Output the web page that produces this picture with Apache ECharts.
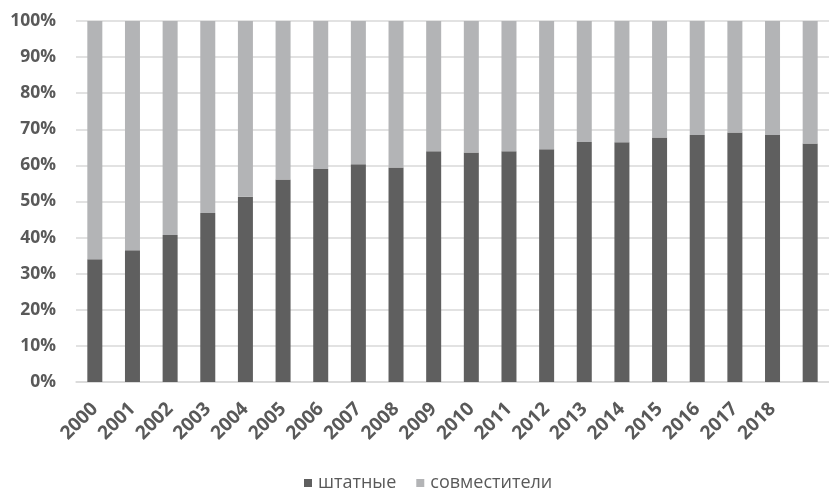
<!DOCTYPE html>
<html><head><meta charset="utf-8">
<script src="https://cdn.jsdelivr.net/npm/echarts@6/dist/echarts.min.js"></script>
<style>html,body{margin:0;padding:0;background:#fff}#c{width:829px;height:491px}</style>
</head><body><div id="c"></div>
<script>
var categories = ['2000','2001','2002','2003','2004','2005','2006','2007','2008','2009','2010','2011','2012','2013','2014','2015','2016','2017','2018',''];
var staff = [34.0,36.5,40.7,46.8,51.3,56.1,59.0,60.3,59.4,63.9,63.6,63.9,64.5,66.5,66.4,67.7,68.4,69.1,68.4,66.1];
var partTime = staff.map(function(v){return +(100 - v).toFixed(1);});
var seriesNames = ['штатные','совместители'];
var yTicks = [0,10,20,30,40,50,60,70,80,90,100];

var chart = echarts.init(document.getElementById('c'));
var font = '"Open Sans", "DejaVu Sans", sans-serif';
chart.setOption({
  animation:false,
  grid:{left:76,right:-8,top:21,bottom:109,containLabel:false},
  legend:{
    data:seriesNames, top:474, left:304, itemWidth:8, itemHeight:8, itemGap:20,
    icon:'rect', padding:0,
    textStyle:{color:'#595959',fontSize:18,fontFamily:font,padding:[0,0,0,1]}
  },
  xAxis:{
    type:'category', data:categories,
    axisLine:{show:true,lineStyle:{color:'#d9d9d9',width:1.5}},
    axisTick:{show:false},
    axisLabel:{rotate:45,interval:0,margin:24,color:'#595959',fontSize:19,fontWeight:'bold',fontFamily:font}
  },
  yAxis:{
    type:'value', min:0, max:100, interval:10,
    axisLine:{show:false}, axisTick:{show:false},
    splitLine:{lineStyle:{color:'#d9d9d9',width:1.5}},
    axisLabel:{margin:20,color:'#595959',fontSize:17.5,fontWeight:'bold',fontFamily:font,
      formatter:function(v){return v+'%';}}
  },
  series:[
    {name:seriesNames[0],type:'bar',stack:'s',data:staff,barWidth:15,itemStyle:{color:'#5f5f5f'}},
    {name:seriesNames[1],type:'bar',stack:'s',data:partTime,barWidth:15,itemStyle:{color:'#b3b4b6'}}
  ]
});
</script></body></html>
